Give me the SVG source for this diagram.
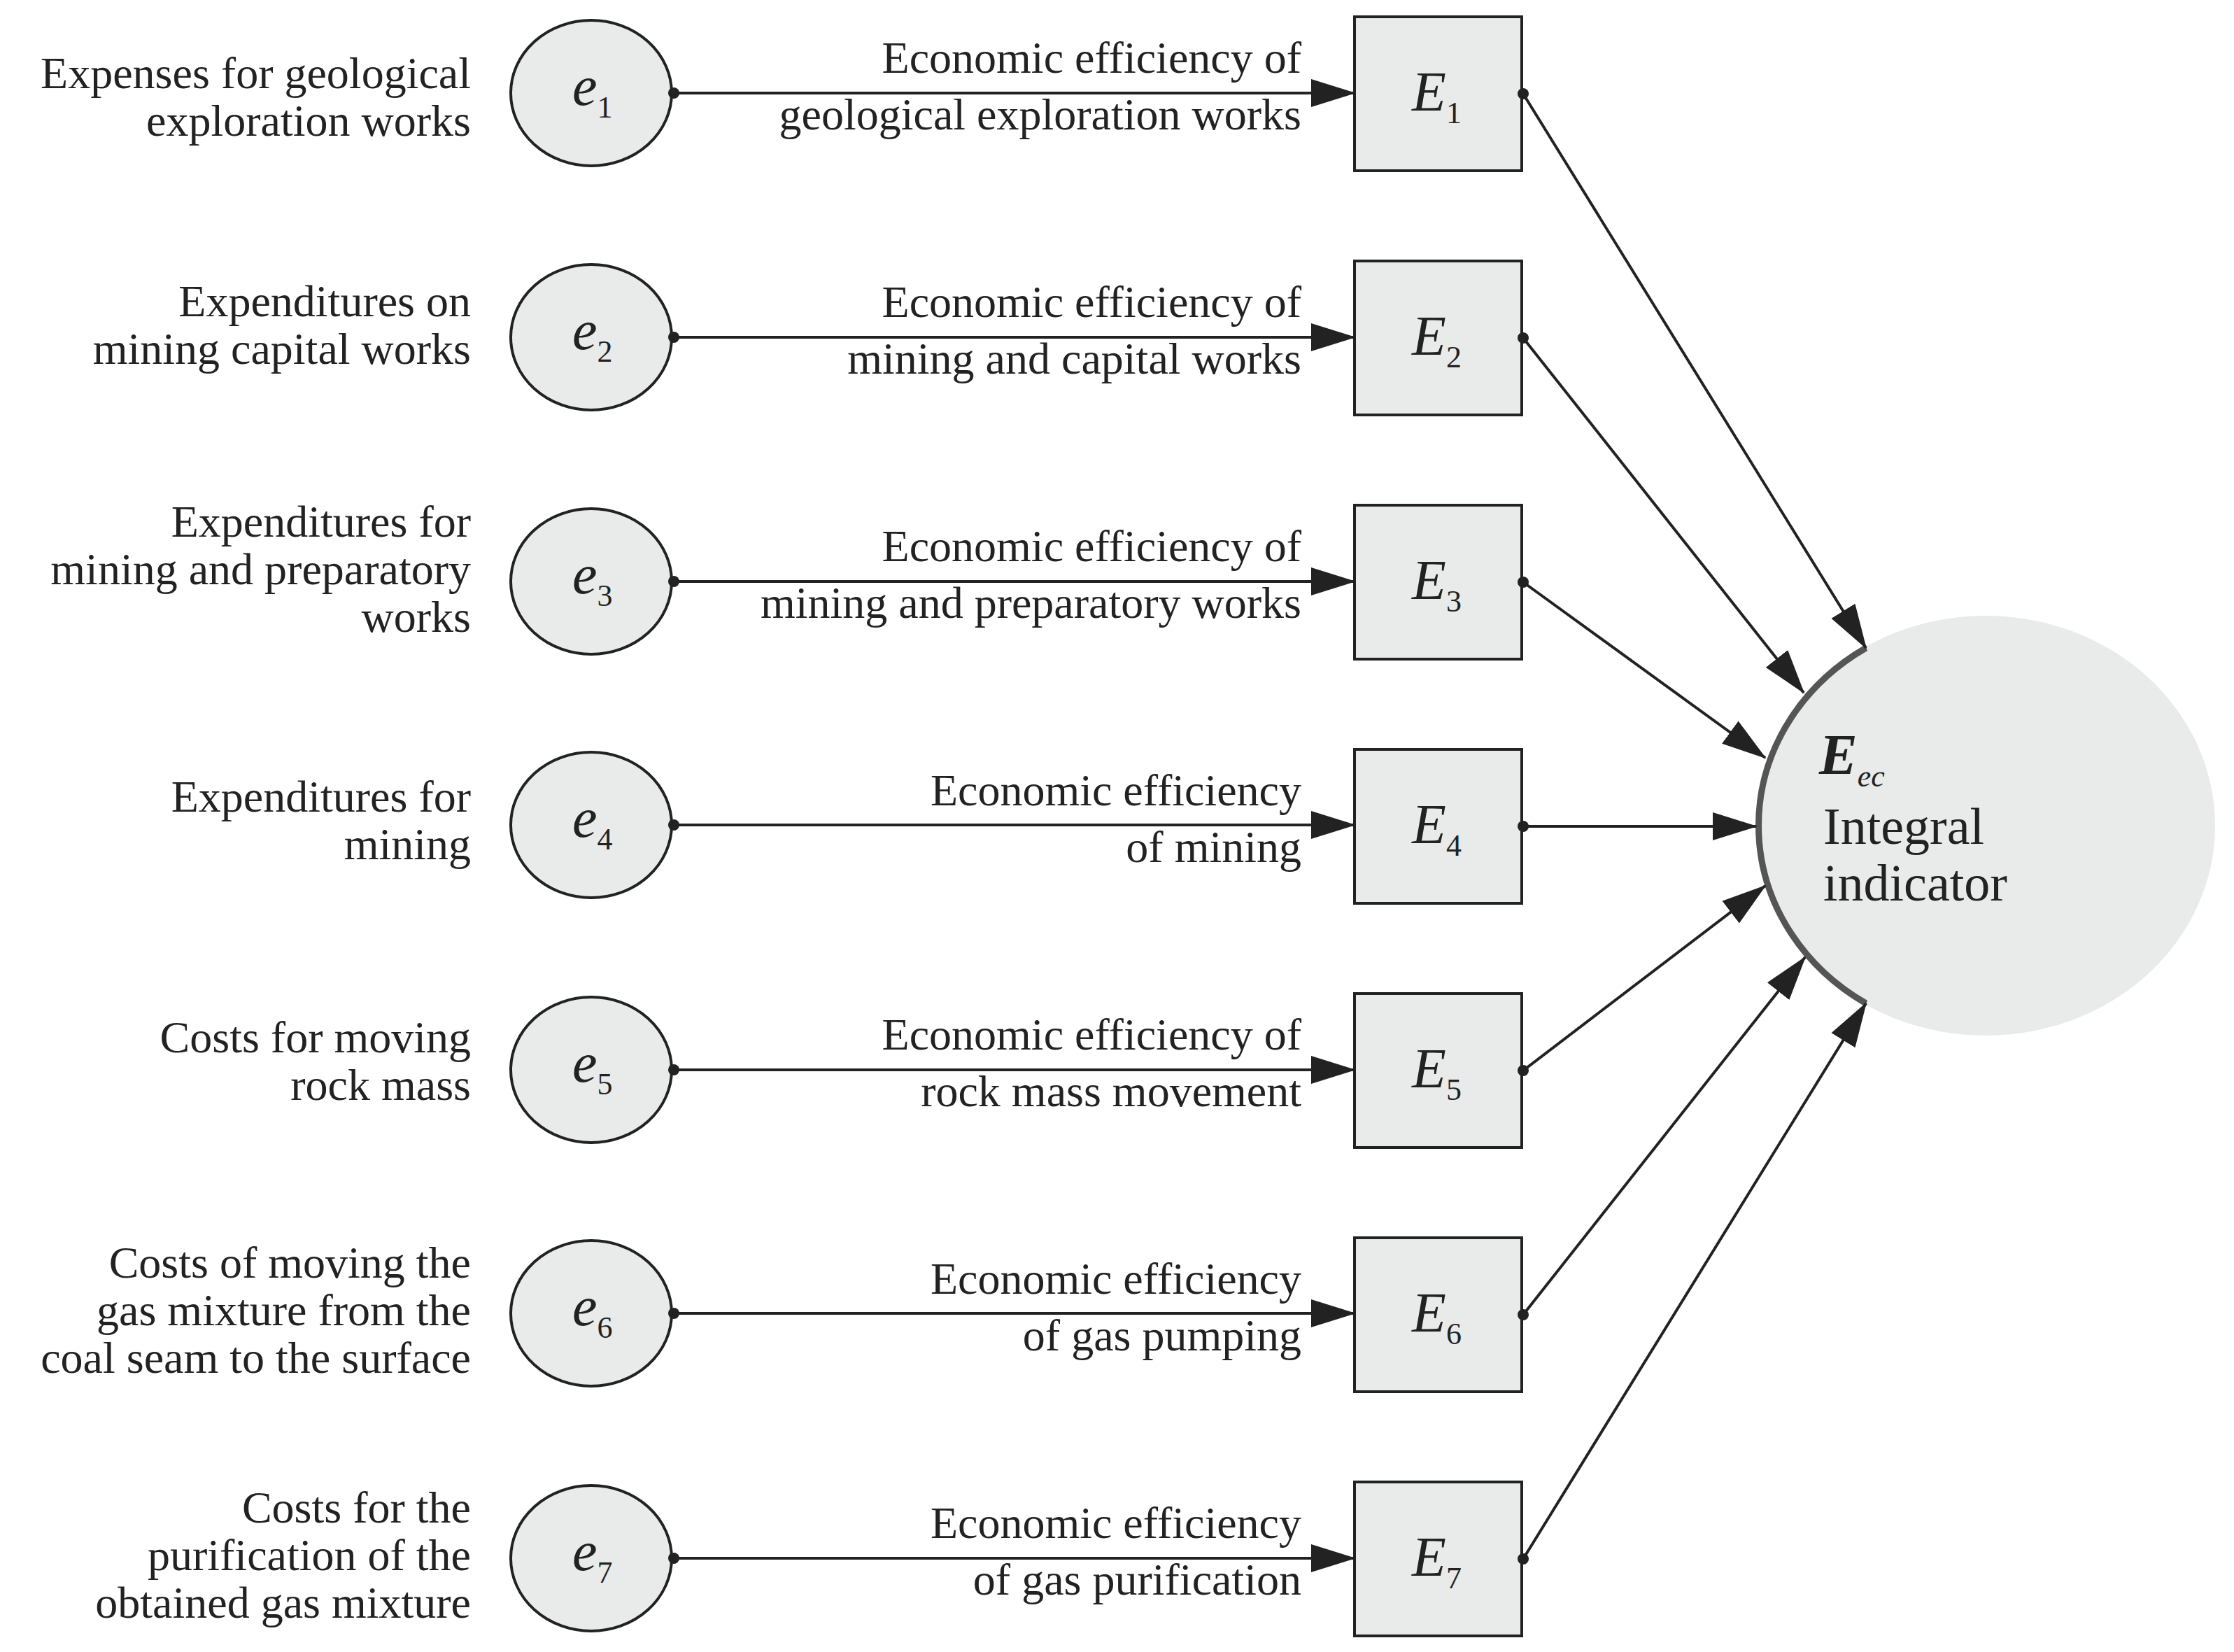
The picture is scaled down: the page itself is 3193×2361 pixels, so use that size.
<svg xmlns="http://www.w3.org/2000/svg" width="3193" height="2361" viewBox="0 0 3193 2361">
<style>
.t{font-family:"Liberation Serif","Times New Roman",serif;font-size:64px;fill:#222;text-anchor:end}
.v{font-family:"Liberation Serif","Times New Roman",serif;font-size:80px;fill:#222;font-style:italic}
.s{font-size:44px;font-style:normal}
.el{fill:#e9eaea;stroke:#222;stroke-width:4}
.bx{fill:#e9eaea;stroke:#222;stroke-width:4}
.ln{stroke:#222;stroke-width:4;fill:none;marker-end:url(#ah)}
.dot{fill:#222}
</style>
<defs>
<marker id="ah" markerUnits="userSpaceOnUse" markerWidth="64" markerHeight="40" refX="62" refY="20" orient="auto">
<path d="M0,0 L64,20 L0,40 Z" fill="#222"/>
</marker>
</defs>
<g id="integral">
<ellipse cx="2838" cy="1180" rx="328" ry="300" fill="#e9eaea"/>
<path d="M2667,926 A328,300 0 0 0 2667,1434" fill="none" stroke="#555" stroke-width="9"/>
<text x="2600" y="1106" font-family="Liberation Serif,serif" font-size="82" font-weight="bold" font-style="italic" fill="#222">E<tspan font-size="44" font-weight="normal" dy="18">ec</tspan></text>
<text x="2606" y="1206" font-family="Liberation Serif,serif" font-size="74" fill="#222">Integral</text>
<text x="2606" y="1287" font-family="Liberation Serif,serif" font-size="74" fill="#222">indicator</text>
</g>
<g id="row1">
<text class="t" x="673" y="126">Expenses for geological</text><text class="t" x="673" y="194">exploration works</text>
<ellipse class="el" cx="845" cy="133" rx="115" ry="104"/><text class="v" x="818" y="150">e<tspan class="s" dy="18">1</tspan></text>
<rect class="bx" x="1936" y="24" width="239" height="220"/><text class="v" x="2018" y="158">E<tspan class="s" dy="18">1</tspan></text>
<text class="t" x="1860" y="104">Economic efficiency of</text><text class="t" x="1860" y="185">geological exploration works</text>
</g>
<g id="row2">
<text class="t" x="673" y="452">Expenditures on</text><text class="t" x="673" y="520">mining capital works</text>
<ellipse class="el" cx="845" cy="482" rx="115" ry="104"/><text class="v" x="818" y="499">e<tspan class="s" dy="18">2</tspan></text>
<rect class="bx" x="1936" y="373" width="239" height="220"/><text class="v" x="2018" y="507">E<tspan class="s" dy="18">2</tspan></text>
<text class="t" x="1860" y="453">Economic efficiency of</text><text class="t" x="1860" y="534">mining and capital works</text>
</g>
<g id="row3">
<text class="t" x="673" y="767">Expenditures for</text><text class="t" x="673" y="835">mining and preparatory</text><text class="t" x="673" y="903">works</text>
<ellipse class="el" cx="845" cy="831" rx="115" ry="104"/><text class="v" x="818" y="848">e<tspan class="s" dy="18">3</tspan></text>
<rect class="bx" x="1936" y="722" width="239" height="220"/><text class="v" x="2018" y="856">E<tspan class="s" dy="18">3</tspan></text>
<text class="t" x="1860" y="802">Economic efficiency of</text><text class="t" x="1860" y="883">mining and preparatory works</text>
</g>
<g id="row4">
<text class="t" x="673" y="1160">Expenditures for</text><text class="t" x="673" y="1228">mining</text>
<ellipse class="el" cx="845" cy="1179" rx="115" ry="104"/><text class="v" x="818" y="1196">e<tspan class="s" dy="18">4</tspan></text>
<rect class="bx" x="1936" y="1071" width="239" height="220"/><text class="v" x="2018" y="1205">E<tspan class="s" dy="18">4</tspan></text>
<text class="t" x="1860" y="1151">Economic efficiency</text><text class="t" x="1860" y="1232">of mining</text>
</g>
<g id="row5">
<text class="t" x="673" y="1504">Costs for moving</text><text class="t" x="673" y="1572">rock mass</text>
<ellipse class="el" cx="845" cy="1529" rx="115" ry="104"/><text class="v" x="818" y="1546">e<tspan class="s" dy="18">5</tspan></text>
<rect class="bx" x="1936" y="1420" width="239" height="220"/><text class="v" x="2018" y="1554">E<tspan class="s" dy="18">5</tspan></text>
<text class="t" x="1860" y="1500">Economic efficiency of</text><text class="t" x="1860" y="1581">rock mass movement</text>
</g>
<g id="row6">
<text class="t" x="673" y="1826">Costs of moving the</text><text class="t" x="673" y="1894">gas mixture from the</text><text class="t" x="673" y="1962">coal seam to the surface</text>
<ellipse class="el" cx="845" cy="1877" rx="115" ry="104"/><text class="v" x="818" y="1894">e<tspan class="s" dy="18">6</tspan></text>
<rect class="bx" x="1936" y="1769" width="239" height="220"/><text class="v" x="2018" y="1903">E<tspan class="s" dy="18">6</tspan></text>
<text class="t" x="1860" y="1849">Economic efficiency</text><text class="t" x="1860" y="1930">of gas pumping</text>
</g>
<g id="row7">
<text class="t" x="673" y="2176">Costs for the</text><text class="t" x="673" y="2244">purification of the</text><text class="t" x="673" y="2312">obtained gas mixture</text>
<ellipse class="el" cx="845" cy="2227" rx="115" ry="104"/><text class="v" x="818" y="2244">e<tspan class="s" dy="18">7</tspan></text>
<rect class="bx" x="1936" y="2118" width="239" height="220"/><text class="v" x="2018" y="2252">E<tspan class="s" dy="18">7</tspan></text>
<text class="t" x="1860" y="2198">Economic efficiency</text><text class="t" x="1860" y="2279">of gas purification</text>
</g>
<g id="connectors">
<line class="ln" x1="961" y1="133" x2="1936" y2="133"/>
<line class="ln" x1="961" y1="482" x2="1936" y2="482"/>
<line class="ln" x1="961" y1="831" x2="1936" y2="831"/>
<line class="ln" x1="961" y1="1179" x2="1936" y2="1179"/>
<line class="ln" x1="961" y1="1529" x2="1936" y2="1529"/>
<line class="ln" x1="961" y1="1877" x2="1936" y2="1877"/>
<line class="ln" x1="961" y1="2227" x2="1936" y2="2227"/>
<line class="ln" x1="2177" y1="134" x2="2667" y2="926"/>
<line class="ln" x1="2177" y1="483" x2="2578" y2="990"/>
<line class="ln" x1="2177" y1="832" x2="2523" y2="1083"/>
<line class="ln" x1="2177" y1="1181" x2="2510" y2="1181"/>
<line class="ln" x1="2177" y1="1530" x2="2523" y2="1266"/>
<line class="ln" x1="2177" y1="1879" x2="2580" y2="1368"/>
<line class="ln" x1="2177" y1="2228" x2="2667" y2="1434"/>
<g class="dot">
<circle cx="963" cy="133" r="8"/><circle cx="963" cy="482" r="8"/><circle cx="963" cy="831" r="8"/><circle cx="963" cy="1179" r="8"/><circle cx="963" cy="1529" r="8"/><circle cx="963" cy="1877" r="8"/><circle cx="963" cy="2227" r="8"/>
<circle cx="2177" cy="134" r="8"/><circle cx="2177" cy="483" r="8"/><circle cx="2177" cy="832" r="8"/><circle cx="2177" cy="1181" r="8"/><circle cx="2177" cy="1530" r="8"/><circle cx="2177" cy="1879" r="8"/><circle cx="2177" cy="2228" r="8"/>
</g>
</g>
</svg>
